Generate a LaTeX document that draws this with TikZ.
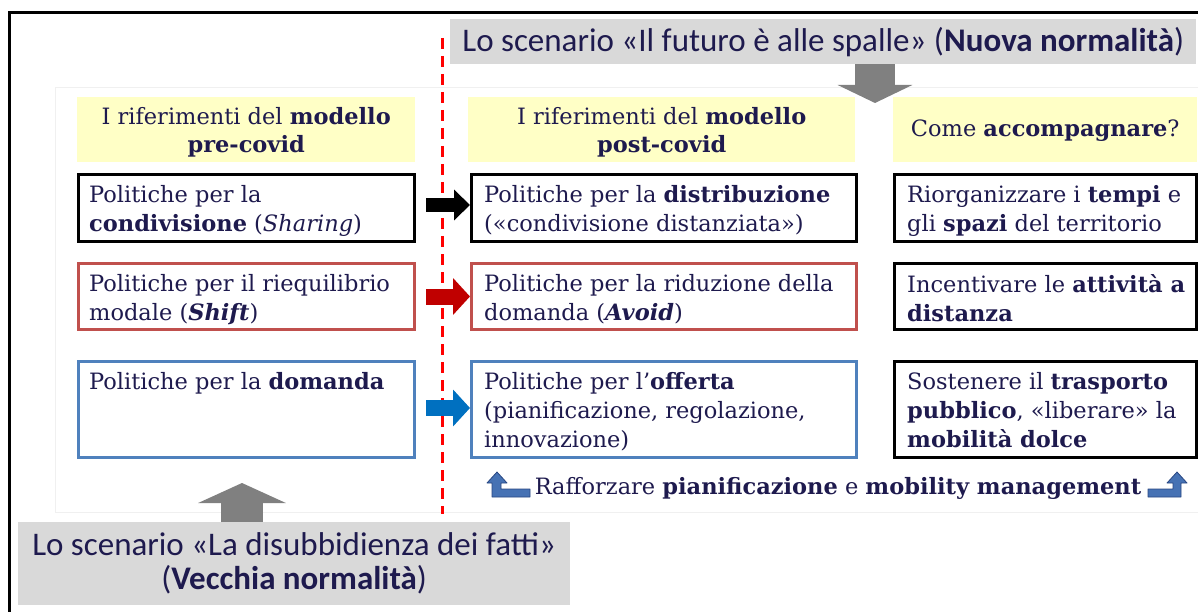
\documentclass[tikz,border=0pt]{standalone}
\usepackage{fontspec}
\setmainfont{DejaVu Serif}
\newfontfamily\calib{Carlito}
\usetikzlibrary{arrows.meta,calc}
\definecolor{navy}{RGB}{30,26,78}
\definecolor{ylw}{RGB}{255,255,198}
\definecolor{boxred}{RGB}{192,80,77}
\definecolor{boxblue}{RGB}{79,129,189}
\definecolor{arrred}{RGB}{192,0,0}
\definecolor{arrblue}{RGB}{0,112,192}
\definecolor{scengray}{RGB}{217,217,217}
\definecolor{arrgray}{RGB}{128,128,128}
\definecolor{bentfill}{RGB}{70,114,180}
\definecolor{bentdraw}{RGB}{40,70,130}
\definecolor{panel}{RGB}{240,240,240}
\begin{document}
\begin{tikzpicture}[x=1pt,y=-1pt,
  bx/.style={draw=#1, line width=3pt, anchor=north west, inner sep=0pt},
  hdr/.style={fill=ylw, anchor=north west, inner sep=0pt, align=center, text=navy,
    font=\fontsize{22.5}{28}\selectfont},
  hdrtxt/.style={inner sep=0pt, align=center, text=navy,
    font=\fontsize{22.5}{28}\selectfont},
  txt/.style={anchor=north west, inner sep=0pt, align=left, text=navy,
    font=\fontsize{22.5}{29}\selectfont},
  scen/.style={fill=scengray, anchor=north west, inner sep=0pt, align=center, text=navy,
    font=\calib\fontsize{33}{34}\selectfont},
  bent/.style={fill=bentfill, draw=bentdraw, line width=0.8pt, line join=round}
]
\useasboundingbox (0,0) rectangle (1198,612);
\clip (0,0) rectangle (1198,612);
\fill[white] (0,0) rectangle (1198,612);

% faint slide panel
\draw[panel, line width=1pt] (55,88) rectangle (1210,512);

% outer frame
\draw[line width=3pt] (9,640) -- (9,13) -- (1230,13);

% scenario boxes
\node[scen, minimum width=746, minimum height=45] (top) at (450,19)
  {Lo scenario «Il futuro è alle spalle» (\textbf{Nuova normalità})};
\node[scen, minimum width=552, minimum height=83] (bot) at (18,522)
  {Lo scenario «La disubbidienza dei fatti»\\(\textbf{Vecchia normalità})};

% gray block arrows
\coordinate (dtip) at (875,103);
\draw[arrgray, line width=40pt, -{Triangle[length=18pt,width=74pt]}] (top.south -| dtip) -- (dtip);
\coordinate (utip) at (242,483);
\draw[arrgray, line width=42pt, -{Triangle[length=20pt,width=87pt]}] (bot.north -| utip) -- (utip);

% red dashed divider
\coordinate (dv1) at (442,38);
\coordinate (dv2) at (442,514);
\draw[red, line width=3pt, dash pattern=on 11pt off 7pt] (dv1) -- (dv2);

% headers
\node[hdr, minimum width=338, minimum height=65] (h1) at (77,97) {};
\node[hdr, minimum width=387, minimum height=65] (h2) at (468,97) {};
\node[hdr, minimum width=304, minimum height=65] (h3) at (893,97) {};
\node[hdrtxt] (ht1) at ([yshift=-3pt]h1.center) {I riferimenti del \textbf{modello}\\\textbf{pre-covid}};
\node[hdrtxt] (ht2) at ([yshift=-3pt]h2.center) {I riferimenti del \textbf{modello}\\\textbf{post-covid}};
\node[hdrtxt] (ht3) at ([yshift=-1pt]h3.center) {Come \textbf{accompagnare}?};

% boxes
\node[bx=black, minimum width=336, minimum height=67] (b11) at (77,173) {};
\node[bx=black, minimum width=385, minimum height=67] (b12) at (470,173) {};
\node[bx=black, minimum width=302, minimum height=67] (b13) at (893,173) {};
\node[bx=boxred, minimum width=336, minimum height=66] (b21) at (77,262) {};
\node[bx=boxred, minimum width=385, minimum height=66] (b22) at (470,262) {};
\node[bx=black, minimum width=302, minimum height=66] (b23) at (893,262) {};
\node[bx=boxblue, minimum width=336, minimum height=96] (b31) at (77,360) {};
\node[bx=boxblue, minimum width=385, minimum height=96] (b32) at (470,360) {};
\node[bx=black, minimum width=302, minimum height=96] (b33) at (893,360) {};

% texts
\node[txt] (t11) at ([xshift=12pt,yshift=-12pt]b11.north west)
  {Politiche per la\\\textbf{condivisione} (\textit{Sharing})};
\node[txt] (t12) at ([xshift=14pt,yshift=-12pt]b12.north west)
  {Politiche per la \textbf{distribuzione}\\(«condivisione distanziata»)};
\node[txt] (t13) at ([xshift=14pt,yshift=-12pt]b13.north west)
  {Riorganizzare i \textbf{tempi} e\\gli \textbf{spazi} del territorio};
\node[txt] (t21) at ([xshift=12pt,yshift=-12pt]b21.north west)
  {Politiche per il riequilibrio\\modale (\textbf{\textit{Shift}})};
\node[txt] (t22) at ([xshift=14pt,yshift=-12pt]b22.north west)
  {Politiche per la riduzione della\\domanda (\textbf{\textit{Avoid}})};
\node[txt] (t23) at ([xshift=14pt,yshift=-12pt]b23.north west)
  {Incentivare le \textbf{attività a}\\\textbf{distanza}};
\node[txt] (t31) at ([xshift=12pt,yshift=-12pt]b31.north west)
  {Politiche per la \textbf{domanda}};
\node[txt] (t32) at ([xshift=14pt,yshift=-12pt]b32.north west)
  {Politiche per l’\textbf{offerta}\\(pianificazione, regolazione,\\innovazione)};
\node[txt] (t33) at ([xshift=14pt,yshift=-12pt]b33.north west)
  {Sostenere il \textbf{trasporto}\\\textbf{pubblico}, «liberare» la\\\textbf{mobilità dolce}};

% block arrows between columns
\draw[black, line width=14pt, -{Triangle[length=16pt,width=30pt]}, shorten <=10pt]
  ([yshift=3pt]b11.east) -- ([yshift=3pt]b12.west);
\draw[arrred, line width=16pt, -{Triangle[length=17pt,width=36pt]}, shorten <=10pt]
  (b21.east) -- (b22.west);
\draw[arrblue, line width=16pt, -{Triangle[length=17pt,width=36pt]}, shorten <=10pt]
  (b31.east |- 0,408) -- (b32.west |- 0,408);

% bottom statement with bent arrows
\node[text=navy, font=\fontsize{22.5}{24}\selectfont, inner sep=0pt] (rf) at (838,488)
  {Rafforzare \textbf{pianificazione} e \textbf{mobility management}};
\draw[bent] (497,472) -- (507,483) -- (501,483) -- (501,489) -- (530,489) -- (530,497)
  -- (492,497) -- (492,483) -- (487,483) -- cycle;
\draw[bent] (1177,472) -- (1187,483) -- (1181,483) -- (1181,497) -- (1148,497) -- (1148,489)
  -- (1173,489) -- (1173,483) -- (1167,483) -- cycle;
\end{tikzpicture}
\end{document}
